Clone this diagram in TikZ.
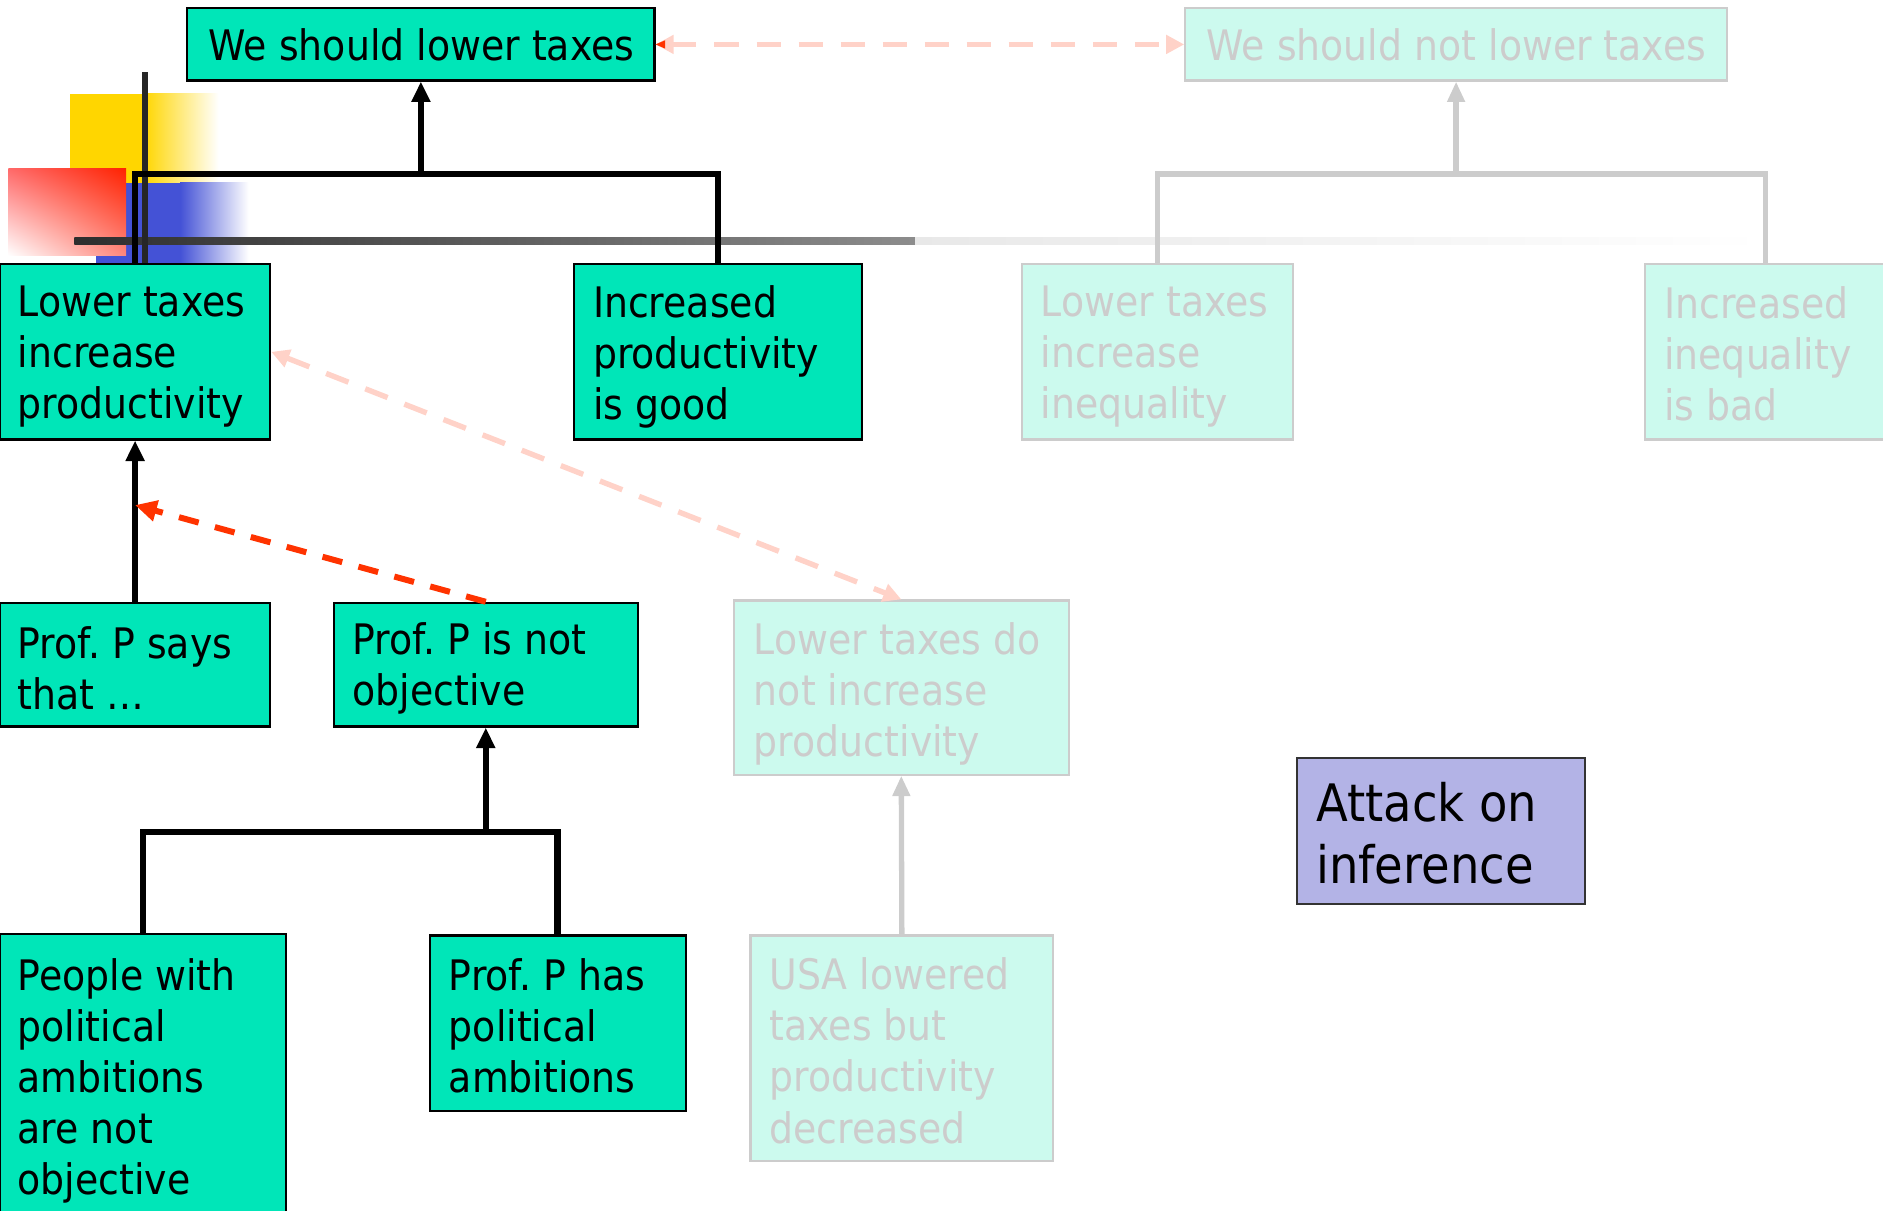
\documentclass[tikz,border=0pt]{standalone}
\usepackage{fontspec}
\setmainfont{DejaVu Sans}[FakeStretch=0.9]
\usetikzlibrary{arrows.meta,calc,shadings}

\definecolor{argfill}{RGB}{0,230,184}
\definecolor{fadefill}{RGB}{204,250,238}
\definecolor{fadeline}{RGB}{204,204,204}
\definecolor{attfill}{RGB}{179,179,230}
\definecolor{attackred}{RGB}{255,51,0}
\definecolor{softred}{RGB}{255,210,200}
\definecolor{decoyellow}{RGB}{255,214,0}
\definecolor{decoblue}{RGB}{68,82,214}
\definecolor{decored}{RGB}{255,34,0}
\definecolor{decopinkA}{RGB}{255,105,105}
\definecolor{decopinkB}{RGB}{255,135,125}

\tikzset{
  argbox/.style={draw=black, line width=1.8pt, fill=argfill, inner sep=0pt},
  fadebox/.style={draw=fadeline, line width=1.8pt, fill=fadefill, inner sep=0pt},
  attbox/.style={draw=black!80, line width=1.4pt, fill=attfill, inner sep=0pt},
  txt/.style={inner sep=0pt, align=left, anchor=west,
              font=\fontsize{35pt}{42.5pt}\selectfont\frenchspacing},
  fadetxt/.style={txt, text=fadeline},
  bigtxt/.style={txt, font=\fontsize{43pt}{52pt}\selectfont\frenchspacing},
  tree/.style={draw=black, line width=5pt},
  uparrow/.style={-{Triangle[length=17pt,width=15pt]}},
  fadetree/.style={draw=fadeline, line width=4.4pt},
  fadearrow/.style={-{Triangle[length=17pt,width=14pt]}},
  attack/.style={draw=attackred, line width=5pt, dash pattern=on 17pt off 14pt,
                 -{Triangle[length=18pt,width=17pt]}},
  softattack/.style={draw=softred, line width=4.5pt, dash pattern=on 20pt off 15pt},
  bothheads/.style={{Triangle[length=15pt,width=15pt]}-{Triangle[length=15pt,width=15pt]}}
}

\begin{document}
\begin{tikzpicture}[x=1pt, y=-1pt]
\useasboundingbox (0,0) rectangle (1568,1008);

% corner ornament: coloured squares and ruled lines
\fill[decoyellow] (58,78) rectangle (120,152);
\shade[left color=decoyellow, right color=white] (120,78) rectangle (182,152);
\fill[decoblue] (80,152) rectangle (150,220);
\shade[left color=decoblue, right color=white] (150,152) rectangle (207,220);
\shade[upper right=decored, lower left=white, upper left=decopinkA, lower right=decopinkB]
  (7,140) rectangle (105,213);
\shade[left color=black!82, right color=black!45] (62,198) rectangle (762,204);
\shade[left color=black!9, right color=white] (762,198) rectangle (1470,204);
\fill[black!85] (118.5,60) rectangle (123.5,220);

% argument boxes
\node[argbox, minimum width=389pt, minimum height=60pt] (top) at (350.5,37) {};
\node[fadebox, minimum width=451pt, minimum height=60pt] (top2) at (1212.5,37) {};
\node[argbox, minimum width=225pt, minimum height=146pt] (lt) at (112.5,293) {};
\node[argbox, minimum width=240pt, minimum height=146pt] (ig) at (598,293) {};
\node[fadebox, minimum width=226pt, minimum height=146pt] (li) at (964,293) {};
\node[fadebox, minimum width=200pt, minimum height=146pt] (ii) at (1470,293) {};
\node[argbox, minimum width=225pt, minimum height=103pt] (ps) at (112.5,553.5) {};
\node[argbox, minimum width=253pt, minimum height=103pt] (np) at (404.5,553.5) {};
\node[fadebox, minimum width=279pt, minimum height=145pt] (ln) at (750.5,572.5) {};
\node[argbox, minimum width=238pt, minimum height=236pt] (pa) at (119,896) {};
\node[argbox, minimum width=213pt, minimum height=146pt] (ph) at (464.5,852) {};
\node[fadebox, minimum width=252pt, minimum height=188pt] (usa) at (751,873) {};
\node[attbox, minimum width=240pt, minimum height=122pt] (att) at (1200,692) {};

% box texts
\node[txt] (top-t) at ([shift={(18.5,0.5)}]top.west) {We should lower taxes};
\node[fadetxt] (top2-t) at ([shift={(18.5,0.5)}]top2.west) {We should not lower taxes};
\node[txt] (lt-t) at ([shift={(15.5,4)}]lt.west) {Lower taxes\\increase\\productivity};
\node[txt] (ig-t) at ([shift={(16.5,4)}]ig.west) {Increased\\productivity\\is good};
\node[fadetxt] (li-t) at ([shift={(16.5,4)}]li.west) {Lower taxes\\increase\\inequality};
\node[fadetxt] (ii-t) at ([shift={(16.5,2)}]ii.west) {Increased\\inequality\\is bad};
\node[txt] (ps-t) at ([shift={(15.5,3)}]ps.west) {Prof. P says\\that …};
\node[txt] (np-t) at ([shift={(16.5,3)}]np.west) {Prof. P is not\\objective};
\node[fadetxt] (ln-t) at ([shift={(17.5,5)}]ln.west) {Lower taxes do\\not increase\\productivity};
\node[txt] (pa-t) at ([shift={(15.5,4)}]pa.west) {People with\\political\\ambitions\\are not\\objective};
\node[txt] (ph-t) at ([shift={(16.5,2)}]ph.west) {Prof. P has\\political\\ambitions};
\node[fadetxt] (usa-t) at ([shift={(16.5,2)}]usa.west) {USA lowered\\taxes but\\productivity\\decreased};
\node[bigtxt] (att-t) at ([shift={(16.5,2)}]att.west) {Attack on\\inference};

% support trees
\coordinate (j1) at ($(top.south)+(0,77)$);
\draw[tree] (lt.north) |- (j1) -| (ig.north);
\draw[tree, uparrow] (j1) -- (top.south);
\draw[tree, uparrow] (ps.north) -- (lt.south);

\coordinate (j2) at ($(np.south)+(0,87)$);
\draw[tree, line width=5.6pt] (pa.north) |- (j2) -| (ph.north);
\draw[tree, uparrow] (j2) -- (np.south);

\coordinate (j3) at ($(top2.south)+(0,77)$);
\draw[fadetree] (li.north) |- (j3) -| (ii.north);
\draw[fadetree, fadearrow] (j3) -- (top2.south);
\draw[fadetree, fadearrow] (usa.north) -- (ln.south);

% attacks
\coordinate (hit) at ($(ps.north)!0.6!(lt.south)$);
\draw[attack] (np.north) -- (hit);
\draw[softattack, bothheads] (top.east) -- (top2.west);
\draw[softattack, bothheads] (lt.east) -- (ln.north);
\draw[draw=none, fill=attackred] (top.east) -- ++(8,-3.5) -- ++(0,7) -- cycle;
\end{tikzpicture}
\end{document}
